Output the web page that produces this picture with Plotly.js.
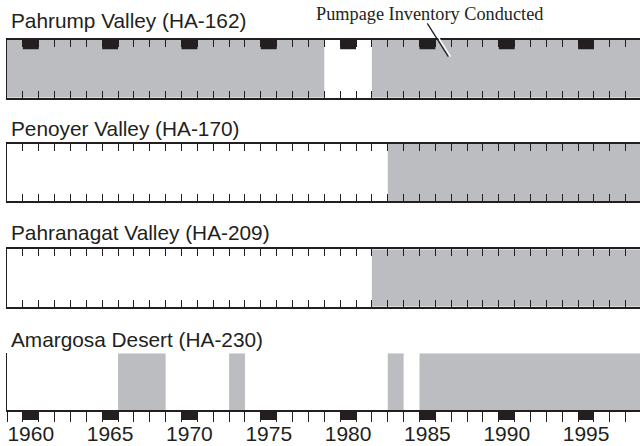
<!DOCTYPE html>
<html><head><meta charset="utf-8">
<script src="https://cdn.plot.ly/plotly-3.0.1.min.js"></script>
<style>html,body{margin:0;padding:0;background:#fff}#chart{width:640px;height:446px}</style>
</head><body><div id="chart"></div>
<script>
// ---- data ----
const markYears = [1960, 1965, 1970, 1975, 1980, 1985, 1990, 1995];
const tickLabels = ['1960', '1965', '1970', '1975', '1980', '1985', '1990', '1995'];
const basinNames = ['Pahrump Valley (HA-162)', 'Penoyer Valley (HA-170)', 'Pahranagat Valley (HA-209)', 'Amargosa Desert (HA-230)'];
const pahrumpStart = [1959, 1982];
const pahrumpEnd = [1979, 1999];
const penoyerStart = [1983];
const penoyerEnd = [1999];
const pahranagatStart = [1982];
const pahranagatEnd = [1999];
const amargosaStart = [1966, 1973, 1983, 1985];
const amargosaEnd = [1969, 1974, 1984, 1999];
const calloutText = 'Pumpage Inventory Conducted';

// ---- style ----
const W = 640, H = 446, L = 7;
const INK = '#231f20', GRAY = '#bcbdc0';
const XR = [1959, 1998.9];
const SANS = 'Liberation Sans, Arial, Helvetica, sans-serif';
const SERIF = 'Liberation Serif, Times New Roman, serif';
const py = y => 1 - y / H;
const pxp = x => (x - L) / (W - L);
const panelsPx = [[40, 97.7], [144, 201], [249.3, 306.7], [353.3, 410]];
const stripPx = [410, 420];
const labelAxisPx = 419.2;
const titleY = [20.5, 128.5, 233, 339];

function periods(starts, ends, xa, ya) {
  return {
    type: 'bar', xaxis: xa, yaxis: ya,
    x: starts.map((s, i) => (s + ends[i]) / 2),
    width: starts.map((s, i) => ends[i] - s),
    y: starts.map(() => 1), base: starts.map(() => 0),
    marker: {color: GRAY, line: {width: 0}}, hoverinfo: 'skip', showlegend: false
  };
}
function marks(xa, ya, base, h) {
  return {
    type: 'bar', xaxis: xa, yaxis: ya,
    x: markYears.map(v => v + 0.5), width: markYears.map(() => 1),
    y: markYears.map(() => h), base: markYears.map(() => base),
    marker: {color: INK, line: {width: 0}}, hoverinfo: 'skip', showlegend: false
  };
}

const traces = [
  periods(pahrumpStart, pahrumpEnd, 'x', 'y'),
  marks('x', 'y', 0.84, 0.16),
  periods(penoyerStart, penoyerEnd, 'x2', 'y2'),
  periods(pahranagatStart, pahranagatEnd, 'x3', 'y3'),
  periods(amargosaStart, amargosaEnd, 'x4', 'y4'),
  marks('x6', 'y6', 0, 1)
];

const xBase = {range: XR, showgrid: false, zeroline: false, fixedrange: true,
  showline: true, linecolor: INK, linewidth: 2,
  tickmode: 'linear', tick0: 1959, dtick: 1, tickcolor: INK, tickwidth: 1,
  showticklabels: false};
const yBase = {range: [0, 1], showgrid: false, zeroline: false, fixedrange: true,
  showline: true, linecolor: INK, linewidth: 1.5, ticks: '', showticklabels: false};

const layout = {
  width: W, height: H, margin: {l: L, r: 0, t: 0, b: 0},
  paper_bgcolor: '#fff', plot_bgcolor: 'rgba(0,0,0,0)',
  barmode: 'overlay', showlegend: false,
  xaxis: Object.assign({}, xBase, {anchor: 'y', ticks: 'inside', ticklen: 7, mirror: 'ticks'}),
  xaxis2: Object.assign({}, xBase, {anchor: 'y2', ticks: 'inside', ticklen: 7, mirror: 'ticks'}),
  xaxis3: Object.assign({}, xBase, {anchor: 'y3', ticks: 'inside', ticklen: 7, mirror: 'ticks'}),
  xaxis4: Object.assign({}, xBase, {anchor: 'y4', ticks: 'outside', ticklen: 10}),
  xaxis5: Object.assign({}, xBase, {anchor: 'y4', overlaying: 'x4', side: 'top', ticks: 'inside', ticklen: 7}),
  xaxis6: {range: XR, anchor: 'free', position: py(labelAxisPx), showgrid: false, zeroline: false, showline: false, fixedrange: true,
    tickmode: 'array', tickvals: markYears.map(v => v + 0.5), ticktext: tickLabels, ticks: '',
    tickfont: {family: SANS, size: 21, color: INK}},
  yaxis: Object.assign({}, yBase, {domain: [py(panelsPx[0][1]), py(panelsPx[0][0])]}),
  yaxis2: Object.assign({}, yBase, {domain: [py(panelsPx[1][1]), py(panelsPx[1][0])]}),
  yaxis3: Object.assign({}, yBase, {domain: [py(panelsPx[2][1]), py(panelsPx[2][0])]}),
  yaxis4: Object.assign({}, yBase, {domain: [py(panelsPx[3][1]), py(panelsPx[3][0])]}),
  yaxis6: {range: [0, 1], domain: [py(stripPx[1]), py(stripPx[0])], showgrid: false, zeroline: false,
    showline: false, showticklabels: false, ticks: '', fixedrange: true},
  annotations: basinNames.map((t, i) => ({
    text: t, xref: 'paper', yref: 'paper', x: pxp(8.5), y: py(titleY[i]),
    xanchor: 'left', yanchor: 'middle', showarrow: false,
    font: {family: SANS, size: 20.8, color: INK}
  })).concat([{
    text: calloutText, xref: 'paper', yref: 'paper', x: pxp(429), y: py(13.5),
    xanchor: 'center', yanchor: 'middle', showarrow: false,
    font: {family: SERIF, size: 18.3, color: INK}
  }]),
  shapes: [
    {type: 'line', xref: 'paper', yref: 'paper', x0: pxp(429.5), y0: py(23.3), x1: pxp(450.5), y1: py(56.7),
     line: {color: '#ffffff', width: 1.5}},
    {type: 'line', xref: 'paper', yref: 'paper', x0: pxp(427.3), y0: py(23.3), x1: pxp(448.3), y1: py(56.7),
     line: {color: INK, width: 1.3}}
  ]
};

Plotly.newPlot('chart', traces, layout, {displayModeBar: false, staticPlot: true});
</script>
</body></html>
